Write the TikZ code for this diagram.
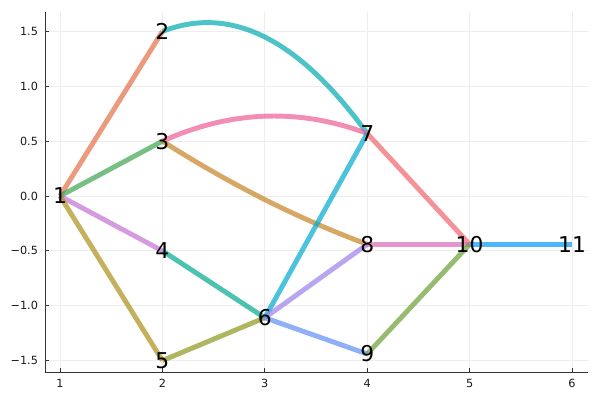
\documentclass[tikz,border=0pt]{standalone}
\usepackage{fontspec}
\setmainfont{DejaVu Sans}
\usepackage{tikz}
\definecolor{pa}{HTML}{009AFA}
\definecolor{pb}{HTML}{E36F47}
\definecolor{pc}{HTML}{3EA44E}
\definecolor{pd}{HTML}{C371D2}
\definecolor{pe}{HTML}{AC8E18}
\definecolor{pf}{HTML}{00AAAE}
\definecolor{pg}{HTML}{ED5E93}
\definecolor{ph}{HTML}{C68225}
\definecolor{pi}{HTML}{00A98D}
\definecolor{pj}{HTML}{8E971D}
\definecolor{pk}{HTML}{00A9CD}
\definecolor{pl}{HTML}{9B7FE9}
\definecolor{pm}{HTML}{618DF6}
\definecolor{pn}{HTML}{F0646B}
\definecolor{po}{HTML}{DD65B6}
\definecolor{pp}{HTML}{6BA034}
\tikzset{
  edge/.style={line width=3.5pt, draw opacity=0.7},
  vlabel/.style={inner sep=0pt, font=\fontsize{15.5}{16}\selectfont},
  ticklabel/.style={inner sep=0pt, font=\fontsize{8}{9}\selectfont, text=black!90},
  gridline/.style={line width=0.5pt, draw=black!7},
  spine/.style={line width=0.7pt, draw=black!80}
}

\begin{document}
\begin{tikzpicture}[x=2.56cm, y=2.7425cm]
  \useasboundingbox (0.4141,-1.8596) rectangle (6.2734,1.7867);
  \foreach \i in {1,...,6}
    \draw[gridline] (\i,-1.6044) -- (\i,1.677);
  \foreach \j in {-1.5,-1.0,-0.5,0.0,0.5,1.0,1.5}
    \draw[gridline] (0.8535,\j) -- (6.156,\j);
  \draw[spine] (0.8535,1.677) -- (0.8535,-1.6044) -- (6.156,-1.6044);
  \foreach \i in {1,...,6} {
    \draw[spine] (\i,-1.6044) -- ++(0,0.1cm);
    \node[ticklabel, anchor=north] (xt\i) at (\i,-1.6044) [yshift=-0.18cm] {\i};
  }
  \foreach \j/\t in {-1.5/−1.5,-1.0/−1.0,-0.5/−0.5,0.0/0.0,0.5/0.5,1.0/1.0,1.5/1.5} {
    \draw[spine] (0.8535,\j) -- ++(0.1cm,0);
    \node[ticklabel, anchor=east] (yt\j) at (0.8535,\j) [xshift=-0.17cm] {\t};
  }
  \coordinate (v1) at (1,0);
  \coordinate (v2) at (2,1.5);
  \coordinate (v3) at (2,0.5);
  \coordinate (v4) at (2,-0.5);
  \coordinate (v5) at (2,-1.5);
  \coordinate (v6) at (3,-1.11);
  \coordinate (v7) at (4,0.57);
  \coordinate (v8) at (4,-0.44);
  \coordinate (v9) at (4,-1.44);
  \coordinate (v10) at (5,-0.44);
  \coordinate (v11) at (6,-0.44);
  \draw[edge, pb] (v1) -- (v2);
  \draw[edge, pc] (v1) -- (v3);
  \draw[edge, pd] (v1) -- (v4);
  \draw[edge, pe] (v1) -- (v5);
  \draw[edge, pf] (v2) .. controls (2.667,1.745) and (3.333,1.43) .. (v7);
  \draw[edge, pg] (v3) .. controls (2.667,0.78) and (3.333,0.803) .. (v7);
  \draw[edge, ph] (v3) .. controls (2.667,0.1033) and (3.333,-0.21) .. (v8);
  \draw[edge, pi] (v4) -- (v6);
  \draw[edge, pj] (v5) -- (v6);
  \draw[edge, pk] (v6) -- (v7);
  \draw[edge, pl] (v6) -- (v8);
  \draw[edge, pm] (v6) -- (v9);
  \draw[edge, pn] (v7) -- (v10);
  \draw[edge, po] (v8) -- (v10);
  \draw[edge, pp] (v9) -- (v10);
  \draw[edge, pa] (v10) -- (v11);
  \foreach \k in {1,...,11}
    \node[vlabel] (n\k) at (v\k) {\k};
\end{tikzpicture}
\end{document}
